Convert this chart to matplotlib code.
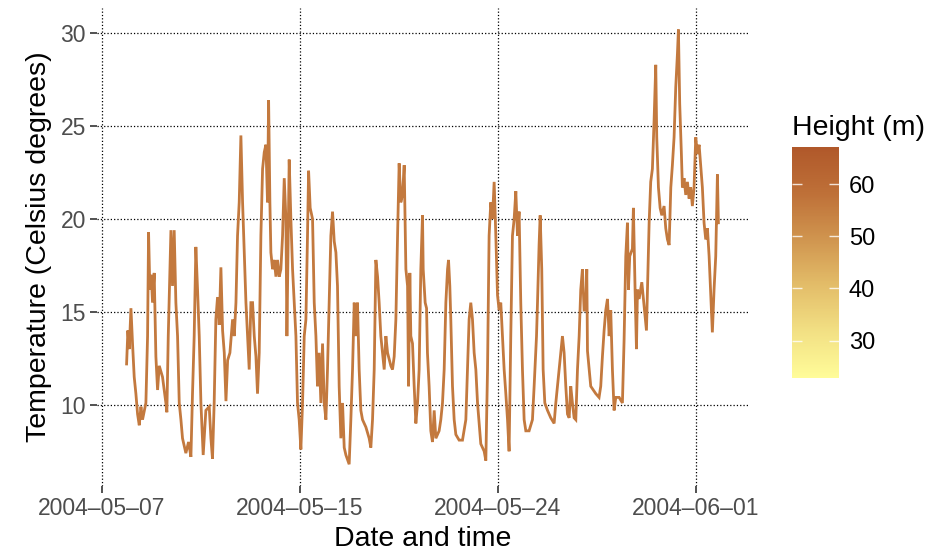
import numpy as np
import pandas as pd
import matplotlib
matplotlib.use("Agg")
import matplotlib.pyplot as plt
from matplotlib.colors import LinearSegmentedColormap, Normalize
from matplotlib.cm import ScalarMappable

plt.rcParams['font.family'] = ['Liberation Sans', 'DejaVu Sans']

# hours after 2004-05-07 12:00, temperature
hours = [24.9, 26.2, 27.6, 29.3, 30.9, 32.6, 34.3, 36.0, 37.7, 39.4, 41.0, 44.4,
         46.1, 47.1, 48.4, 49.8, 51.1, 52.8, 54.5, 56.2, 57.9, 61.2, 64.6, 65.6,
         67.0, 69.7, 71.3, 73.0, 74.7, 76.4, 78.1, 79.8, 81.4, 84.8, 87.5, 89.9,
         91.5, 93.2, 94.9, 96.6, 98.3, 100.0, 102.3, 105.0, 108.4, 110.1, 111.7, 113.4,
         115.1, 116.8, 118.5, 120.2, 121.9, 123.6, 125.3, 127.0, 129.3, 132.0, 133.7, 135.4,
         137.0, 138.7, 140.4, 142.1, 143.8, 145.5, 147.1, 148.8, 150.5, 152.2, 153.9, 155.6,
         157.2, 158.9, 160.6, 162.3, 164.0, 165.7, 167.3, 168.4, 169.7, 170.7, 172.4, 174.1,
         175.8, 177.4, 179.1, 180.8, 182.5, 184.2, 185.9, 186.9, 188.2, 189.2, 190.9, 192.6,
         194.3, 196.0, 197.6, 199.3, 201.0, 202.7, 204.4, 206.1, 207.7, 208.8, 210.4, 212.8,
         214.5, 216.2, 217.8, 219.5, 221.2, 222.9, 224.6, 226.3,
         227.9, 229.6, 231.3, 233.0, 234.7, 236.4, 238.0, 239.7, 241.4, 243.1, 244.8, 246.5,
         249.8, 251.5, 253.2, 254.9, 256.6, 258.2, 259.9, 261.6, 263.3, 266.7, 270.0, 271.7,
         273.4, 275.1, 276.8, 278.5, 280.1, 281.8, 283.5, 285.2, 286.9, 288.6, 291.9, 293.6,
         295.3, 297.0, 298.7, 300.3, 302.0, 303.7, 305.4, 307.1, 308.8, 309.8, 311.1, 312.1,
         313.8, 315.5, 317.2, 318.9, 320.5, 322.2, 323.9,
         324.6, 326.6, 328.0, 328.9, 330.6, 332.3, 334.0, 335.7, 337.4, 340.7, 342.4, 344.1,
         345.8, 347.5, 349.2, 350.2, 351.5, 352.5, 354.2, 355.9, 357.6, 360.9, 364.3, 367.7,
         369.4, 371.0, 372.7, 374.4, 376.1, 377.8, 379.5, 382.8, 386.2, 387.9, 389.6, 391.2,
         392.9, 394.6, 396.3, 398.0, 399.7, 401.3, 403.0, 404.7, 406.4, 408.1, 409.8, 411.4,
         413.1, 414.8, 416.5, 418.2, 419.9, 421.5, 423.2, 424.9, 426.6, 428.3,
         431.6, 435.0, 436.7, 439.1, 440.1, 441.7, 442.8, 444.4, 445.8, 447.5, 450.2, 453.5,
         456.9, 458.6, 460.3, 462.0, 463.6, 465.3, 467.0, 468.7, 470.4, 472.1, 473.7, 475.4,
         477.1, 478.8, 480.5, 482.2, 483.8, 485.5, 487.2, 488.9, 489.9, 490.6, 492.3, 493.9,
         499.0, 502.3, 504.0, 505.7, 507.4, 509.1, 510.8, 512.5, 514.1, 515.8, 517.5, 519.2,
         522.6, 525.9,
         527.6, 529.3, 531.0, 532.0, 533.3, 536.0, 537.0, 538.7, 540.1, 541.1, 542.8, 545.5,
         547.8, 550.2, 551.2, 552.9, 554.5, 556.2, 557.9, 559.6, 560.6, 562.3, 564.0, 565.7,
         568.0, 569.7, 571.4, 573.1, 574.8, 576.4, 578.1, 579.8, 581.5, 582.5, 583.8, 585.5,
         586.5, 588.2, 589.9, 591.6, 593.3, 594.9, 596.6, 598.3, 600.0, 601.7, 603.4, 605.0,
         606.7, 608.4, 610.1, 611.8, 613.5, 615.2, 616.8, 618.5, 620.2, 621.9, 622.9]

temp_c = [12.2, 14.0, 13.0, 15.2, 13.3, 11.5, 10.6, 9.5, 8.9, 9.9, 9.2, 10.1,
          13.7, 19.3, 16.2, 17.0, 15.5, 17.1, 12.6, 10.8, 12.1, 11.5, 10.1, 9.6,
          13.7, 19.4, 16.4, 19.4, 15.5, 13.7, 10.1, 9.2, 8.2, 7.4, 8.0, 7.2,
          10.6, 13.7, 18.5, 16.2, 13.7, 10.1, 7.3, 9.7, 9.9, 8.2, 7.1, 10.1,
          14.6, 15.8, 14.3, 17.4, 14.0, 12.8, 10.2, 12.4, 12.8, 14.6, 13.7, 15.5,
          19.1, 20.9, 24.5, 20.9, 18.2, 15.5, 13.7, 11.9, 15.5, 15.5, 13.7, 12.6,
          10.6, 12.8, 19.1, 22.7, 23.6, 24.0, 20.9, 26.4, 20.9, 18.2, 17.3, 17.8,
          16.9, 17.8, 16.9, 17.3, 19.1, 22.2, 20.0, 13.7, 19.1, 23.2, 20.0, 17.3,
          15.5, 13.7, 10.1, 9.2, 7.6, 10.1, 13.7, 14.6, 19.1, 22.6, 20.6, 20.0,
          15.5, 13.7, 11.0, 12.8, 10.1, 13.3, 10.1, 9.2,
          11.9, 15.5, 19.1, 20.4, 18.8, 18.2, 16.4, 11.0, 8.2, 10.1, 7.7, 7.3,
          6.8, 9.2, 11.9, 15.5, 13.7, 15.5, 11.9, 9.7, 9.2, 8.8, 8.2, 7.7,
          9.2, 11.9, 17.8, 16.9, 15.5, 13.7, 12.8, 11.9, 13.7, 12.8, 12.1, 11.9,
          12.6, 14.6, 19.1, 23.0, 20.9, 21.3, 22.9, 17.3, 16.4, 11.0, 17.1, 13.7,
          13.3, 11.0, 9.0, 10.1, 11.9, 17.3, 20.2,
          17.3, 15.5, 15.2, 12.8, 11.0, 8.6, 8.0, 9.7, 8.2, 8.6, 9.2, 10.1,
          11.9, 15.5, 17.3, 17.8, 16.4, 14.6, 11.0, 9.2, 8.4, 8.1, 8.1, 9.2,
          11.9, 14.6, 15.5, 14.6, 12.8, 11.9, 10.1, 7.9, 7.5, 7.0, 11.9, 19.1,
          20.9, 20.0, 22.0, 19.1, 15.9, 15.1, 15.5, 13.7, 11.9, 10.6, 9.2, 7.5,
          13.7, 19.1, 20.0, 21.5, 19.1, 20.4, 15.5, 11.9, 9.2, 8.6,
          8.6, 9.2, 11.0, 13.7, 15.5, 18.6, 20.2, 17.3, 11.9, 10.1, 9.7, 9.3,
          9.0, 10.1, 11.0, 11.9, 12.8, 13.7, 12.8, 11.0, 9.5, 9.3, 11.0, 10.1,
          9.3, 9.2, 11.9, 13.7, 16.2, 17.3, 15.1, 15.1, 17.3, 12.9, 11.9, 11.0,
          10.6, 10.4, 11.0, 12.6, 14.0, 15.1, 15.7, 13.7, 15.1, 11.9, 9.7, 10.4,
          10.4, 10.1,
          13.5, 18.0, 19.8, 16.2, 18.0, 18.4, 20.6, 16.2, 13.0, 16.2, 15.7, 16.6,
          15.3, 14.0, 16.2, 19.8, 22.0, 22.7, 25.3, 28.3, 24.4, 21.7, 20.6, 20.2,
          20.7, 19.5, 18.9, 18.6, 21.7, 22.9, 24.4, 27.1, 28.9, 30.2, 26.2, 23.5,
          21.7, 22.2, 21.3, 22.0, 21.1, 21.7, 20.7, 21.7, 24.4, 23.5, 24.0, 22.9,
          21.7, 19.8, 18.9, 19.5, 18.0, 15.9, 13.9, 16.2, 18.0, 22.4, 19.8]

sensor_height = 56.0
height_range = [22.85, 67.1]
height_ticks = [30, 40, 50, 60]
tick_dates = ['2004-05-07 12:00', '2004-05-15 20:00', '2004-05-24 04:00', '2004-06-01 12:00']

height_cmap = LinearSegmentedColormap.from_list(
    'height', ['#FFFC99', '#F2E084', '#E3BD69', '#D0954F', '#BE7038', '#B0582A'])


def main():
    base = pd.Timestamp('2004-05-07 12:00')
    times = base + pd.to_timedelta(np.array(hours), unit='h')
    norm = Normalize(vmin=height_range[0], vmax=height_range[1])

    fig = plt.figure(figsize=(9.3, 5.58), dpi=100)
    ax = fig.add_axes([0.1043, 0.129, 0.70, 0.857])
    ax.plot(times, temp_c, color=height_cmap(norm(sensor_height)), linewidth=2.0,
            solid_joinstyle='miter')
    ax.margins(x=0.05, y=0.05)

    ticks = pd.to_datetime(tick_dates)
    ax.set_xticks(ticks)
    ax.set_xticklabels([t.strftime('%Y-%m-%d').replace('-', '\u2013') for t in ticks])
    ax.set_yticks([10, 15, 20, 25, 30])

    ax.grid(True, linestyle=':', color='black', linewidth=0.9)
    ax.set_axisbelow(True)
    for s in ax.spines.values():
        s.set_visible(False)
    ax.tick_params(colors='#333333', labelcolor='#4D4D4D', labelsize=16.5,
                   length=5, width=1.2, pad=3)
    ax.set_xlabel('Date and time', fontsize=20.5, labelpad=4)
    ax.set_ylabel('Temperature (Celsius degrees)', fontsize=20.5, labelpad=6)

    cax = fig.add_axes([0.8516, 0.3226, 0.0505, 0.414])
    cb = fig.colorbar(ScalarMappable(norm=norm, cmap=height_cmap), cax=cax)
    cb.outline.set_visible(False)
    cb.set_ticks(height_ticks)
    cax.tick_params(direction='in', color='#FFFFFFCC', length=7, width=1,
                    left=True, right=True, labelsize=17, labelcolor='black', pad=7)
    fig.text(792 / 930, 1 - 128 / 558, 'Height (m)', fontsize=20.5, va='center', ha='left')

    fig.savefig('out.png', dpi=100)


if __name__ == '__main__':
    main()
